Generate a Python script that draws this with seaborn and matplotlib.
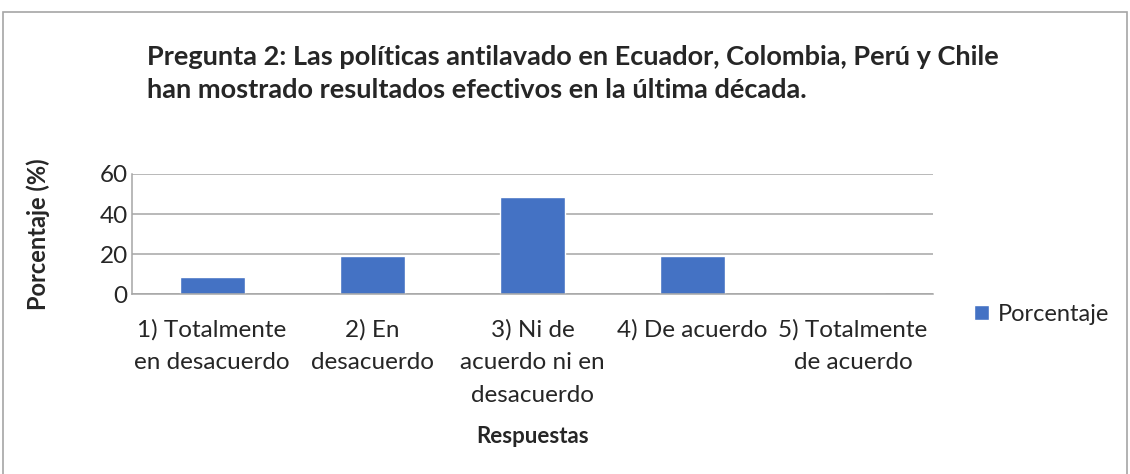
import matplotlib
matplotlib.use("Agg")
import matplotlib.pyplot as plt
import seaborn as sns
import pandas as pd
from matplotlib.patches import Rectangle

# datos
respuestas = ["1) Totalmente\nen desacuerdo", "2) En\ndesacuerdo", "3) Ni de\nacuerdo ni en\ndesacuerdo",
              "4) De acuerdo", "5) Totalmente\nde acuerdo"]
porcentaje = [8.6, 19.0, 48.3, 19.0, 0.0]
yticks = [0, 20, 40, 60]

titulo = "Pregunta 2: Las políticas antilavado en Ecuador, Colombia, Perú y Chile\nhan mostrado resultados efectivos en la última década."

sns.set_style("white")
plt.rcParams["font.family"] = ["Lato", "DejaVu Sans"]

df = pd.DataFrame({"Respuestas": respuestas, "Porcentaje": porcentaje})

fig = plt.figure(figsize = (11.3, 4.74), dpi = 100)
ax = fig.add_axes([0.1168, 0.379, 0.7089, 0.254])
sns.barplot(data = df, x = "Respuestas", y = "Porcentaje", color = "#4472C4", saturation = 1, width = 0.405, ax = ax)

ax.set_ylim(0, 60)
ax.set_yticks(yticks)
ax.yaxis.grid(True, color = "#A6A6A6", linewidth = 1.1)
ax.set_axisbelow(True)
for s in ["top", "right"]:
    ax.spines[s].set_visible(False)
for s in ["left", "bottom"]:
    ax.spines[s].set_color("#A6A6A6")
    ax.spines[s].set_linewidth(1.1)
ax.tick_params(axis = "both", length = 0, labelsize = 17.5)
ax.tick_params(axis = "x", pad = 18)
ax.tick_params(axis = "y", pad = 3)
for t in ax.get_xticklabels():
    t.set_linespacing(1.67)

ax.set_xlabel("Respuestas", fontsize = 16, fontweight = "bold", labelpad = 15)
ax.set_ylabel("Porcentaje (%)", fontsize = 17, fontweight = "bold", labelpad = 36)

ax.legend(handles = [ax.patches[0]], labels = ["Porcentaje"], frameon = False, fontsize = 17,
          loc = "center left", bbox_to_anchor = (0.854, 0.337), bbox_transform = fig.transFigure,
          handlelength = 0.6, handleheight = 0.6, handletextpad = 0.4, borderaxespad = 0)

fig.text(0.130, 0.906, titulo, fontsize = 19.5, fontweight = "bold", va = "top", ha = "left", linespacing = 1.45)

fig.patches.append(Rectangle((3 / 1130, -0.1), 1124 / 1130, 1.1 - 12 / 474, transform = fig.transFigure,
                             fill = False, edgecolor = "#A6A6A6", linewidth = 1.2))

plt.savefig("out.png", dpi = 100)
